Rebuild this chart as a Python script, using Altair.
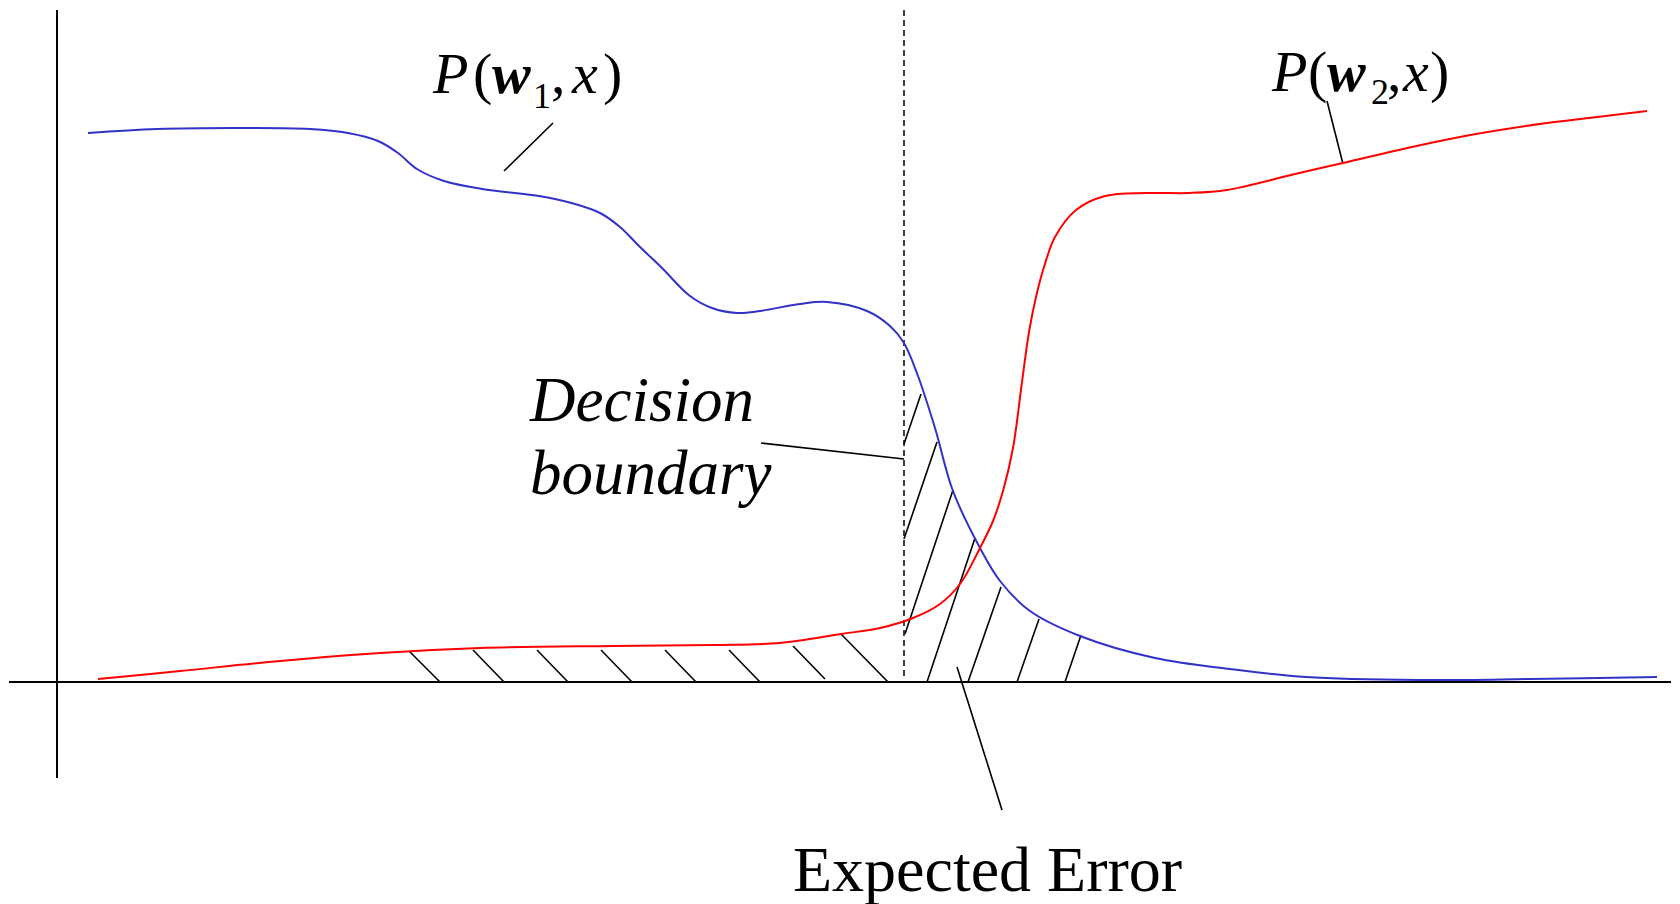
import altair as alt
import pandas as pd

# ---- curve values (x: distance from the vertical axis, y: height above the baseline) ----
blue_x = [31, 100, 188, 253, 291, 321, 341, 360, 387, 425, 482, 518, 543, 563, 583, 605, 633,
          655, 680, 703, 743, 770, 810, 833, 847, 861, 878, 896, 923, 943, 973, 1023, 1098, 1173,
          1249, 1362, 1474, 1600]
blue_y = [549, 553, 554, 553, 549, 541, 529, 513, 501, 493, 486, 478, 469, 455, 435, 414, 386,
          374, 369, 371, 378, 380, 371, 356, 339, 306, 254, 191, 134, 101, 71, 46, 24, 13,
          5, 2, 3, 5]

red_x = [41, 123, 223, 323, 423, 556, 656, 723, 784, 823, 856, 883, 903, 923, 936, 946, 956,
         965, 972, 979, 987, 998, 1019, 1048, 1090, 1132, 1170, 1238, 1286, 1364, 1419, 1490,
         1532, 1590]
red_y = [3, 11, 21, 29, 34, 36, 37, 39, 48, 54, 64, 78, 98, 134, 161, 191, 234,
         300, 350, 385, 415, 445, 472, 486, 489, 489, 492, 508, 519, 537, 548, 559,
         564, 571]

# ---- hatching of the error region (segment end points) ----
hatch_x = [352, 416, 480, 544, 608, 672, 736, 784, 847, 847, 848, 870, 911, 960, 1008]
hatch_y = [31, 32, 32, 32, 32, 32, 36, 48, 238, 143, 48, 0, 0, 0, 0]
hatch_x2 = [383, 447, 511, 575, 639, 703, 768, 831, 864, 880, 896, 918, 944, 982, 1024]
hatch_y2 = [0, 0, 0, 0, 0, 0, 3, 0, 288, 240, 192, 144, 95, 63, 47]

# ---- leader lines for the labels ----
lead_x = [496, 1270, 704, 900]
lead_y = [559, 581, 239, 15]
lead_x2 = [447, 1286, 847, 945]
lead_y2 = [511, 518, 223, -128]

# ---- axes and decision boundary ----
axis_x = [0, -48]
axis_y = [672, 0]
axis_x2 = [0, 1614]
axis_y2 = [-96, 0]
boundary_x = [847]
boundary_y = [672]
boundary_y2 = [4]

# ---- label pieces ----
italic_text = ["P", "x", "P", "x", "Decision", "boundary"]
italic_pos = [(376, 589), (515, 589), (1215, 591), (1346, 591), (473, 261), (473, 188)]
italic_size = [58, 58, 58, 58, 63, 63]
bold_text = ["w", "w"]
bold_pos = [(435, 589), (1270, 591)]
regular_text = ["(", ",", ")", "(", ",", ")"]
regular_pos = [(416, 589), (494, 589), (546, 589), (1251, 591), (1330, 591), (1373, 591)]
sub_text = ["1", "2"]
sub_pos = [(476, 574), (1314, 578)]
big_text = ["Expected Error"]
big_pos = [(736, -209)]

W, H = 1664, 884
XS = alt.Scale(domain=[8 - 57, 8 + W - 57], nice=False, zero=False)
YS = alt.Scale(domain=[681 - (8 + H), 681 - 8], nice=False, zero=False)

def X(f="x"):
    return alt.X(f"{f}:Q", scale=XS, axis=None)

def Y(f="y"):
    return alt.Y(f"{f}:Q", scale=YS, axis=None)

FONT = "Liberation Serif"

blue = alt.Chart(pd.DataFrame({"x": blue_x, "y": blue_y})).mark_line(
    color="#3232c8", strokeWidth=2, interpolate="catmull-rom").encode(x=X(), y=Y())
red = alt.Chart(pd.DataFrame({"x": red_x, "y": red_y})).mark_line(
    color="#ff0000", strokeWidth=2, interpolate="catmull-rom").encode(x=X(), y=Y())

def segs(xs, ys, xs2, ys2):
    return pd.DataFrame({"x": xs, "y": ys, "x2": xs2, "y2": ys2})

hatch = alt.Chart(segs(hatch_x, hatch_y, hatch_x2, hatch_y2)).mark_rule(
    color="black", strokeWidth=1.6).encode(x=X(), y=Y(), x2="x2:Q", y2="y2:Q")
leads = alt.Chart(segs(lead_x, lead_y, lead_x2, lead_y2)).mark_rule(
    color="black", strokeWidth=1.6).encode(x=X(), y=Y(), x2="x2:Q", y2="y2:Q")
axes = alt.Chart(segs(axis_x, axis_y, axis_x2, axis_y2)).mark_rule(
    color="black", strokeWidth=2).encode(x=X(), y=Y(), x2="x2:Q", y2="y2:Q")
boundary = alt.Chart(pd.DataFrame({"x": boundary_x, "y": boundary_y, "y2": boundary_y2})).mark_rule(
    color="black", strokeWidth=1.5, strokeDash=[6, 4]).encode(x=X(), y=Y(), y2="y2:Q")

def tdf(texts, pos, sizes=None):
    d = pd.DataFrame({"t": texts, "x": [p[0] for p in pos], "y": [p[1] for p in pos]})
    if sizes is not None:
        d["s"] = sizes
    return d

italic = alt.Chart(tdf(italic_text, italic_pos, italic_size)).mark_text(
    font=FONT, fontStyle="italic", align="left", baseline="alphabetic", color="black").encode(
    x=X(), y=Y(), text="t:N", size=alt.Size("s:Q", scale=None, legend=None))
bold = alt.Chart(tdf(bold_text, bold_pos)).mark_text(
    font=FONT, fontStyle="italic", fontWeight="bold", fontSize=58, align="left",
    baseline="alphabetic", color="black").encode(x=X(), y=Y(), text="t:N")
regular = alt.Chart(tdf(regular_text, regular_pos)).mark_text(
    font=FONT, fontSize=58, align="left", baseline="alphabetic", color="black").encode(
    x=X(), y=Y(), text="t:N")
sub = alt.Chart(tdf(sub_text, sub_pos)).mark_text(
    font=FONT, fontSize=36, align="left", baseline="alphabetic", color="black").encode(
    x=X(), y=Y(), text="t:N")
big = alt.Chart(tdf(big_text, big_pos)).mark_text(
    font=FONT, fontSize=64, align="left", baseline="alphabetic", color="black").encode(
    x=X(), y=Y(), text="t:N")

chart = alt.layer(axes, boundary, hatch, leads, blue, red, italic, bold, regular, sub, big).properties(
    width=W, height=H, padding=0, background="white"
).configure_view(stroke=None)

chart.save("out.html", embed_options={"renderer": "svg", "actions": False})
